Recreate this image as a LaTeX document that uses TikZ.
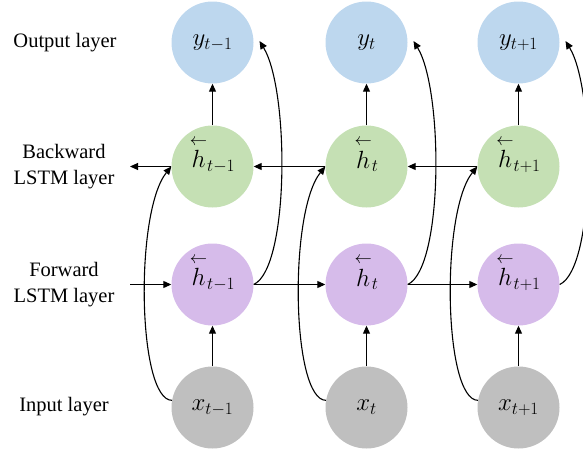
\documentclass[tikz,border=0pt]{standalone}
\usepackage{amsmath}
\usepackage{fontspec}
\setmainfont{Liberation Serif}
\usetikzlibrary{arrows.meta,calc}
\definecolor{outc}{HTML}{BDD7EE}
\definecolor{bwc}{HTML}{C5E0B4}
\definecolor{fwc}{HTML}{D6BBEA}
\definecolor{inc}{HTML}{BFBFBF}
\newcommand{\hlarr}{\mathord{\smash[t]{\overset{\scriptstyle\leftarrow}{h}}}}
\begin{document}
\begin{tikzpicture}[x=1pt,y=-1pt,
  neuron/.style={circle, minimum size=82pt, inner sep=0pt, font=\fontsize{25}{28}\selectfont},
  outn/.style={neuron, fill=outc},
  bwn/.style={neuron, fill=bwc},
  fwn/.style={neuron, fill=fwc},
  inn/.style={neuron, fill=inc},
  conn/.style={line width=1.1pt, -{Triangle[length=8pt,width=7pt]}},
  lab/.style={font=\fontsize{20.5}{26}\selectfont, align=center}]
\useasboundingbox (0,0) rectangle (583,453);
\clip (0,0) rectangle (583,453);
% labels
\node[lab] (lo) at (65,43) {Output layer};
\node[lab] (lb) at (64,166.5) {Backward\\LSTM layer};
\node[lab] (lf) at (64,284.5) {Forward\\LSTM layer};
\node[lab] (li) at (64,407) {Input layer};
% nodes
\foreach \i/\cx/\s in {1/212.5/{t-1},2/366.5/{t},3/518.5/{t+1}}{
  \node[outn] (o\i) at (\cx,42.5) {$y_{\s}$};
  \node[bwn]  (b\i) at (\cx,166.5) {$\hlarr_{\s}$};
  \node[fwn]  (f\i) at (\cx,284.5) {$\hlarr_{\s}$};
  \node[inn]  (x\i) at (\cx,407.5) {$x_{\s}$};
  \coordinate (or\i) at (\cx+47,41);
  \draw[conn] (b\i.north) -- (o\i.south);
  \draw[conn] (x\i.north) -- (f\i.south);
  \draw[conn] (f\i.east) .. controls (\cx+77,268) and (\cx+77,90) .. (or\i);
  \draw[conn] (x\i.170) .. controls (\cx-75,400) and (\cx-78,212) .. (b\i.west);
}
\coordinate (bl) at (130,166.5);
\coordinate (fl) at (130,284.5);
\draw[conn] (b1.west) -- (bl);
\draw[conn] (b2.west) -- (b1.east);
\draw[conn] (b3.west) -- (b2.east);
\draw[conn] (fl) -- (f1.west);
\draw[conn] (f1.east) -- (f2.west);
\draw[conn] (f2.east) -- (f3.west);
\end{tikzpicture}
\end{document}
